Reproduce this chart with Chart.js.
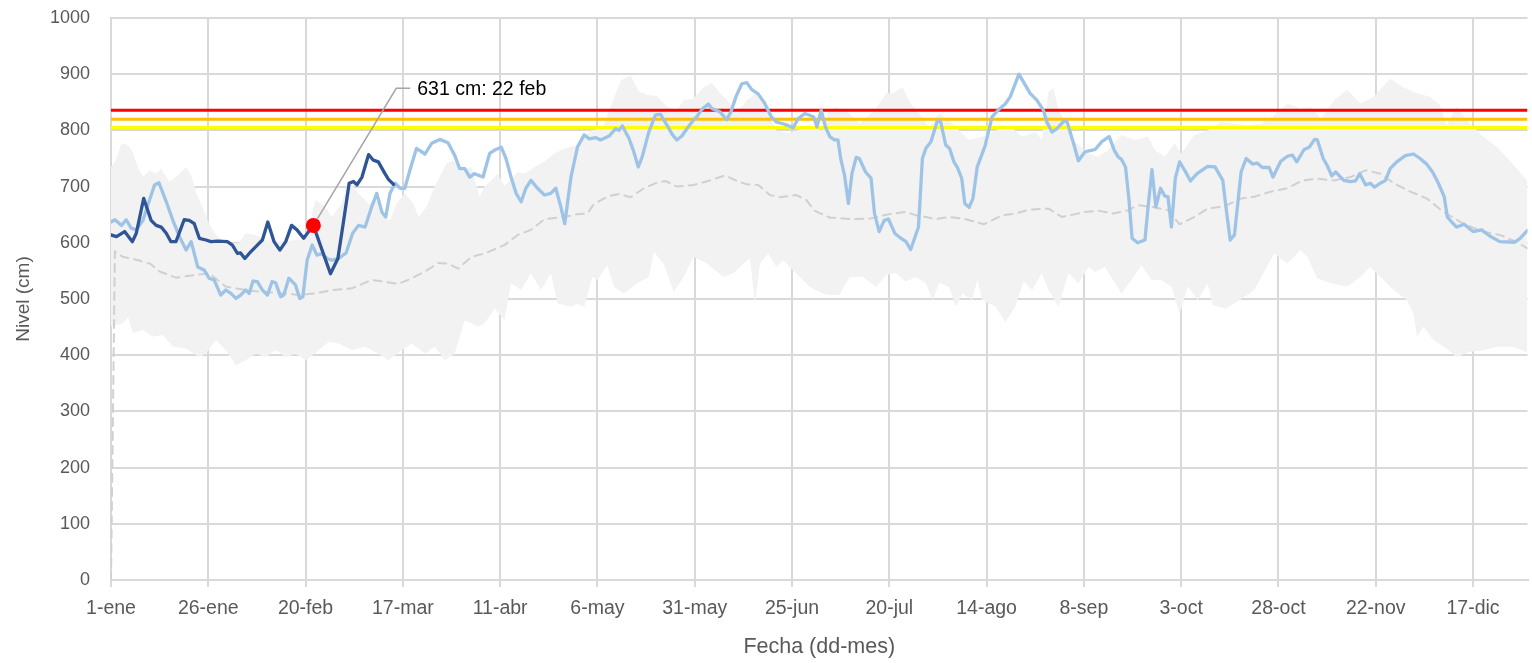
<!DOCTYPE html>
<html lang="es">
<head>
<meta charset="utf-8">
<title>Nivel (cm)</title>
<script src="https://cdn.jsdelivr.net/npm/chart.js@4/dist/chart.umd.min.js"></script>
<style>
    html, body { margin: 0; padding: 0; background: #fff; overflow: hidden; }
    #wrap { width: 1535px; height: 663px; }
</style>
</head>
<body>
<div id="wrap"><canvas id="levelChart" width="1535" height="663"></canvas></div>
<script>
// tick labels, one every 25 days from 1-ene
const tickLabels = ['1-ene', '26-ene', '20-feb', '17-mar', '11-abr', '6-may', '31-may', '25-jun',
    '20-jul', '14-ago', '8-sep', '3-oct', '28-oct', '22-nov', '17-dic'];

// current year (dark blue)
const currentDays = [0, 1.4, 3.5, 5.5, 6.5, 8.4, 10.3, 11.6, 12.9, 14.2, 15.4, 16.7, 18.8, 20.1, 21.4, 22.7, 24.4,
    25.7, 27.4, 29.9, 31.2, 32.5, 33.3, 34.4, 35.9, 37.6, 38.9, 40.3, 41.9, 43.4, 44.9, 46.4, 47.8, 49.5, 52,
    56.4, 58.3, 59.8, 61.2, 62.3, 63.2, 64.5, 66.2, 67.4, 68.7, 70.4, 71.3, 72.6];
const currentValues = [614, 611, 620, 602, 617, 679, 640, 631, 628, 617, 602, 602, 641, 640, 634, 608, 605,
    602, 603, 602, 596, 581, 582, 572, 584, 596, 605, 637, 602, 587, 602, 631, 623, 608, 631,
    545, 572, 640, 706, 709, 703, 717, 757, 747, 744, 723, 713, 704];

// previous year (light blue)
const previousDays = [0, 1, 2.7, 3.9, 5.2, 6.5, 8.2, 9.9, 11.2, 12.3, 14.2, 15.9, 17.6, 19.3, 20.6, 22.3, 24, 25.2,
    26.5, 28.2, 29.5, 30.8, 32.1, 33.3, 34.6, 35.5, 36.5, 37.6, 38.9, 40.2, 41.4, 42.3, 43.6, 44.4, 45.7, 47.4,
    48.5, 49.3, 50.4, 51.7, 52.9, 54.2, 55.5, 56.8, 58.5, 60.4, 62.1, 63.6, 65.3, 67, 68.3, 69.6, 70.6, 71.7,
    73, 74.3, 75.5, 76.8, 78.5, 80.7, 82.4, 84.5, 86.6, 88.3, 89.6, 90.9, 92.2, 93.4, 95.6, 97.3, 98.6, 100.3,
    101.5, 102.8, 104.1, 105.4, 106.6, 107.9, 109.6, 111.4, 113, 114.3, 115.6, 116.6, 118.2, 119.9, 121.6,
    122.9, 124.6, 125.8, 128, 129.7, 130.5, 131.4, 133.1, 134.2, 135.5, 136.5, 138.2, 139.9, 141.2, 142.9,
    144.2, 145.4, 146.7, 148, 149.3, 150.6, 151.8, 153.5, 154.4, 156.5, 158.2, 159.3, 160.6, 162.1, 163.4,
    164.6, 166.3, 168, 169.7, 171, 173.1, 175.3, 176.6, 178.3, 179.5, 180.6, 181.4, 182.5, 183.6, 184.7,
    185.9, 186.8, 187.6, 188.5, 189.5, 190.4, 191.5, 192.3, 193.9, 195.3, 196.2, 197.4, 198.7, 199.8, 201.5,
    203, 204.3, 205.5, 207.5, 208.5, 209.4, 210.7, 212.4, 213.2, 214.5, 215.5, 216.6, 217.5, 218.6, 219.4,
    220.5, 221.5, 222.6, 224.6, 226.4, 228.1, 229.8, 231.1, 233.3, 234.5, 236.2, 237.9, 239.6, 240.5, 241.8,
    243.1, 244.8, 245.6, 247.3, 248.6, 250.3, 251.6, 252.9, 254.6, 256.5, 257.8, 258.8, 259.7, 260.7, 261.6,
    262.4, 263.8, 265.7, 266.5, 267.5, 268.5, 269.7, 270.8, 271.6, 272.5, 273.5, 274.6, 275.9, 277.4, 279.1,
    281.8, 283.7, 285.7, 286.5, 287.6, 288.7, 290.4, 291.7, 293.4, 294.5, 295.9, 297.6, 298.6, 300.6, 302.3,
    303.6, 304.7, 306.6, 307.9, 309.3, 310, 311.5, 312.5, 313.7, 314.7, 316.8, 318.5, 319.8, 320.9, 322.4,
    323.6, 324.7, 326.2, 327.5, 328.7, 330.4, 332.6, 334.7, 336.4, 338.1, 339.6, 341.1, 342.6, 343.4, 344.5,
    345.8, 347.7, 350, 352.2, 354.3, 356.9, 360.7, 362.1, 364];
const previousValues = [637, 641, 631, 641, 626, 623, 640, 676, 703, 707, 673, 640, 611, 587, 602, 557, 551, 537,
    534, 507, 516, 510, 501, 507, 516, 510, 532, 531, 516, 507, 531, 529, 504, 507, 537, 525,
    501, 504, 569, 596, 578, 581, 572, 569, 572, 582, 617, 631, 628, 664, 688, 655, 646, 688,
    706, 697, 697, 729, 768, 758, 777, 784, 778, 756, 732, 732, 717, 723, 717, 759, 765, 770,
    750, 717, 688, 673, 697, 711, 697, 685, 688, 697, 664, 634, 717, 771, 792,
    785, 787, 783, 790, 803, 800, 808, 786, 765, 735, 753, 797, 827, 829, 809,
    793, 783, 790, 803, 815, 825, 837, 847, 839, 833, 819, 833, 860, 883, 885,
    873, 865, 848, 824, 815, 811, 805, 821, 830, 827, 824, 806, 836, 806, 789,
    783, 783, 747, 720, 670, 723, 752, 750, 726, 715, 652, 620, 640, 642, 616,
    608, 602, 588, 628, 750, 768, 780, 818, 815, 774, 768, 744, 734, 715, 670,
    663, 679, 735, 772, 824, 837, 847, 860, 900, 886, 866, 854, 836, 815, 797,
    803, 816, 817, 778, 746, 762, 764, 766, 780, 789, 765, 753, 748, 735, 676,
    608, 600, 605, 664, 730, 664, 697, 683, 682, 628, 715, 744, 729, 710, 723,
    736, 735, 711, 664, 605, 614, 726, 750, 740, 742, 734, 734, 717, 745, 754,
    756, 744, 766, 770, 784, 783, 750, 738, 719, 726, 711, 709, 710, 723, 703,
    706, 699, 706, 711, 732, 744, 755, 758, 750, 740, 726, 706, 682, 646, 637,
    628, 633, 620, 623, 612, 602, 601, 608, 622];

// historical mean (dashed)
const meanDays = [0, 1, 3, 7, 10, 12.5, 16.7, 21.8, 25.2, 29.5, 33.8, 38, 44.9, 48.3, 52.5, 56.8, 61.9, 67, 73.8,
    76.4, 80.7, 84.1, 86.6, 89.2, 92.6, 96, 101.1, 104.5, 107.9, 111.4, 116.5, 119.9, 122.4, 124.1, 127.5, 130.5,
    133.5, 136.9, 140.3, 142.5, 145.4, 149.7, 154, 157.8, 160.8, 163.4, 166.3, 169.3, 171.9, 176.1, 178.7,
    180.8, 184.7, 190.6, 194.9, 200, 204.3, 206.8, 209.4, 211.9, 215.3, 219.6, 224.3, 229, 232.4, 235.8,
    240.9, 244.3, 247.7, 250.3, 253.7, 257.5, 261.4, 263.9, 267.4, 271.6, 274.6, 278.4, 281.8, 286.1, 290.4,
    293.8, 298, 302.3, 306.1, 310, 314.3, 318.5, 322.4, 326.2, 329.6, 333.9, 338.1, 342.4, 347.5, 352.6,
    356.9, 361.1, 364];
const meanValues = [0, 585, 575, 569, 563, 549, 538, 543, 546, 522, 517, 513, 510, 507, 510, 516, 519, 534, 527,
    534, 549, 564, 563, 554, 575, 581, 596, 614, 623, 642, 646, 651, 652, 669, 682, 687,
    681, 697, 707, 710, 700, 703, 711, 720, 710, 704, 703, 685, 681, 685, 676,
    657, 645, 642, 643, 651, 655, 649, 646, 642, 646, 642, 633, 649, 652, 659,
    661, 646, 651, 655, 657, 652, 658, 667, 664, 658, 633, 646, 661, 665, 679,
    682, 691, 697, 711, 714, 711, 717, 729, 723, 706, 691, 679, 655, 634, 620,
    614, 602, 590];

// historical maximum
const maxDays = [0, 1.3, 2.7, 4.3, 5.6, 6.9, 8.2, 9.9, 11.6, 12.9, 15, 16.7, 19.3, 20.6, 21.8, 23.5, 25.2, 27, 29.5,
    32.9, 34.6, 37.2, 39.7, 43.1, 47.4, 50, 52.5, 55.1, 56.8, 59.3, 61, 63.6, 66.2, 68.7, 70.4, 71.7, 73.4, 75.5,
    77.7, 79, 81.1, 83.2, 86.2, 87.9, 90.5, 92.6, 94.7, 96, 97.7, 99.4, 101.1, 102.8, 104.5, 106.2, 109.6, 111.4,
    113.9, 116.5, 119.9, 123.3, 126.3, 128.4, 131, 133.5, 135.6, 137.8, 140.3, 142.9, 145.4, 147.2, 149.7,
    152.3, 154.4, 156.5, 159.1, 160.8, 163.4, 166, 167.6, 171, 174.4, 176.1, 179.5, 182.9, 184.5, 186.4,
    189.8, 192.3, 196.2, 199.2, 200.9, 203.4, 205.5, 207.7, 210.2, 212.8, 215.4, 217.9, 220.5, 223.9, 227.3,
    230.7, 234.1, 237.5, 239.2, 240.9, 242.2, 243.5, 246, 247.7, 251.2, 253.7, 256.3, 259.7, 263.1, 266.5,
    268.2, 270.8, 273.3, 275, 278.4, 281.8, 285.3, 288.7, 292.1, 295.5, 298.9, 302.4, 305.7, 308.3, 311,
    314.3, 317.7, 321.1, 324.5, 328.7, 332.1, 335.5, 338.9, 341.5, 343.2, 345.8, 349.2, 352.6, 356, 359.4, 364];
const maxValues = [735, 747, 777, 774, 762, 735, 717, 729, 723, 732, 708, 717, 735, 720, 691, 664, 634, 614, 600,
    599, 617, 614, 605, 602, 605, 605, 676, 664, 646, 670, 711, 688, 670, 676, 646, 640, 670, 688,
    670, 646, 664, 700, 741, 747, 729, 735, 682, 700, 711, 723, 700, 714, 726, 723, 738, 744,
    759, 768, 774, 800, 803, 842, 889, 898, 869, 863, 861, 842, 836, 854, 857,
    877, 885, 866, 848, 830, 854, 866, 848, 800, 795, 800, 806, 800, 836, 842,
    830, 812, 836, 866, 866, 877, 848, 830, 806, 830, 818, 800, 783, 789, 800,
    809, 789, 797, 783, 869, 875, 836, 806, 780, 759, 753, 765, 792, 783, 789,
    765, 753, 777, 759, 792, 800, 815, 812, 809, 812, 827, 848, 839, 842, 821,
    854, 872, 848, 860, 892, 877, 866, 860, 845, 809, 842, 812, 789, 771, 747, 710];

// historical minimum
const minDays = [0, 3.1, 4.4, 5.6, 8.2, 10.7, 13.3, 15.9, 19.3, 22.7, 24.4, 27, 29.5, 32.1, 34.6, 37.2, 39.7, 42.3,
    44.9, 47.4, 50, 53.4, 55.9, 58.5, 61.9, 65.3, 68.7, 71.3, 74.7, 77.2, 80.7, 83.2, 85.8, 88.3, 90.9, 94.3, 96,
    98.6, 101.1, 102.8, 105.4, 107.9, 110.5, 113, 114.8, 118.2, 119.9, 121.6, 123.7, 125, 127.5, 129.3, 131.8,
    135.2, 138.2, 139.5, 142, 144.6, 147.2, 149.7, 153.1, 157.4, 160, 162.5, 164.2, 165.5, 166.8, 168.9, 171,
    172.7, 175.3, 179.5, 182.9, 184.5, 187.2, 189.8, 193.2, 196.6, 199.2, 201.7, 204.3, 206.8, 209.4, 211.1,
    212.8, 215.4, 217.1, 218.8, 221.3, 222.6, 223.9, 227.3, 229.8, 232.4, 234.5, 236.7, 239.2, 240.9, 243.5,
    246, 248.6, 251.2, 252.9, 255.4, 259.7, 262.2, 264.8, 267.4, 269.9, 272.5, 274.6, 276.7, 279.3, 281.8,
    283.1, 286.5, 288.7, 293.8, 298.9, 302.3, 305.7, 307.4, 310, 313.4, 317.7, 321.1, 323.6, 327, 329.6, 333,
    334.7, 335.6, 337.3, 339.8, 343.2, 345.8, 349.2, 352.6, 356, 360.3, 364];
const minValues = [451, 457, 468, 439, 445, 433, 436, 415, 412, 397, 403, 427, 409, 382, 391, 403, 397, 409,
    397, 403, 391, 409, 424, 421, 409, 415, 403, 391, 409, 421, 403, 415, 391, 403, 462, 451, 457,
    483, 462, 528, 516, 546, 516, 546, 492, 486, 492, 486, 539, 534, 560, 522, 510,
    528, 539, 584, 563, 513, 539, 575, 563, 539, 546, 563, 572, 492, 563, 581, 557,
    569, 551, 522, 510, 507, 507, 539, 539, 522, 543, 546, 531, 539, 528, 498,
    528, 522, 486, 510, 498, 534, 498, 486, 459, 486, 531, 516, 546, 516, 486,
    546, 528, 557, 548, 557, 510, 534, 560, 534, 534, 522, 474, 522, 498, 528,
    489, 483, 492, 516, 581, 563, 587, 575, 537, 528, 522, 539, 557, 534, 516, 498,
    474, 433, 451, 427, 412, 397, 406, 409, 415, 415, 405];

// alert thresholds (cm)
const redLevel = 836;
const orangeLevel = 820;
const yellowLevel = 805;

// highlighted reading
const markerDay = 52;
const markerValue = 631;
const markerText = '631 cm: 22 feb';
const calloutDay = 73.3;
const calloutLevel = 875;

const lastDay = 364;

const toPoints = (days, values) => days.map((d, i) => ({ x: d, y: values[i] }));
const flatLine = level => [{ x: 0, y: level }, { x: lastDay, y: level }];

const fontFamily = '"Liberation Sans", Arial, sans-serif';

const calloutPlugin = {
    id: 'callout',
    afterDatasetsDraw(chart) {
        const { ctx, scales: { x, y } } = chart;
        const px = x.getPixelForValue(markerDay);
        const py = y.getPixelForValue(markerValue);
        const ex = x.getPixelForValue(calloutDay);
        const ey = y.getPixelForValue(calloutLevel);
        const len = Math.hypot(ex - px, ey - py);
        const sx = px + (ex - px) / len * 8;
        const sy = py + (ey - py) / len * 8;

        ctx.save();
        ctx.strokeStyle = '#a6a6a6';
        ctx.lineWidth = 1.5;
        ctx.beginPath();
        ctx.moveTo(sx, sy);
        ctx.lineTo(ex, ey);
        ctx.lineTo(ex + 14, ey);
        ctx.stroke();

        ctx.fillStyle = '#000000';
        ctx.font = '19.5px ' + fontFamily;
        ctx.textAlign = 'left';
        ctx.textBaseline = 'middle';
        ctx.fillText(markerText, ex + 21, ey + 1);
        ctx.restore();
    }
};

document.addEventListener('DOMContentLoaded', () => {
    const canvas = document.getElementById('levelChart');

    new Chart(canvas.getContext('2d'), {
        type: 'line',
        data: {
            datasets: [
                {
                    label: 'Actual',
                    data: [{ x: markerDay, y: markerValue }],
                    showLine: false,
                    pointRadius: 7.5,
                    pointBackgroundColor: '#ff0000',
                    pointBorderWidth: 0,
                },
                {
                    label: 'Año actual',
                    data: toPoints(currentDays, currentValues),
                    borderColor: '#2f5597',
                    borderWidth: 3.3,
                },
                {
                    label: 'Año anterior',
                    data: toPoints(previousDays, previousValues),
                    borderColor: '#9dc3e6',
                    borderWidth: 3.3,
                },
                {
                    label: 'Alerta roja',
                    data: flatLine(redLevel),
                    borderColor: '#ff0000',
                    borderWidth: 3,
                    borderCapStyle: 'butt',
                },
                {
                    label: 'Alerta naranja',
                    data: flatLine(orangeLevel),
                    borderColor: '#ffc000',
                    borderWidth: 3,
                    borderCapStyle: 'butt',
                },
                {
                    label: 'Alerta amarilla',
                    data: flatLine(yellowLevel),
                    borderColor: '#ffff00',
                    borderWidth: 3,
                    borderCapStyle: 'butt',
                },
                {
                    label: 'Promedio',
                    data: toPoints(meanDays, meanValues),
                    borderColor: '#d0d0d0',
                    borderWidth: 2,
                    borderDash: [8, 6],
                },
                {
                    label: 'Máximo',
                    data: toPoints(maxDays, maxValues),
                    borderWidth: 0,
                    borderColor: 'rgba(0,0,0,0)',
                    backgroundColor: '#f2f2f2',
                    fill: '+1',
                },
                {
                    label: 'Mínimo',
                    data: toPoints(minDays, minValues),
                    borderWidth: 0,
                    borderColor: 'rgba(0,0,0,0)',
                    fill: false,
                },
            ],
        },
        options: {
            responsive: false,
            animation: false,
            devicePixelRatio: 1,
            layout: { padding: { top: 18, right: 0, left: 0, bottom: 0 } },
            elements: {
                point: { radius: 0, hoverRadius: 0 },
                line: { tension: 0, borderJoinStyle: 'round', borderCapStyle: 'round' },
            },
            plugins: {
                legend: { display: false },
                tooltip: { enabled: false },
            },
            scales: {
                x: {
                    type: 'linear',
                    min: 0,
                    max: lastDay,
                    afterBuildTicks: scale => {
                        scale.ticks = tickLabels.map((_, i) => ({ value: i * 25 }));
                    },
                    afterFit: scale => { scale.height = 83; },
                    ticks: {
                        callback: value => tickLabels[Math.round(value / 25)],
                        color: '#595959',
                        font: { family: fontFamily, size: 19.5 },
                        padding: 10,
                        maxRotation: 0,
                        autoSkip: false,
                    },
                    grid: { color: '#d9d9d9', lineWidth: 2, tickLength: 7 },
                    border: { color: '#d9d9d9', width: 2 },
                    title: {
                        display: true,
                        text: 'Fecha (dd-mes)',
                        color: '#595959',
                        font: { family: fontFamily, size: 21.5 },
                        padding: { top: 0, bottom: 3 },
                    },
                },
                y: {
                    min: 0,
                    max: 1000,
                    afterFit: scale => {
                        scale.width = 111;
                        scale.paddingTop = 0;
                        scale.paddingBottom = 0;
                    },
                    ticks: {
                        stepSize: 100,
                        callback: value => String(value),
                        color: '#595959',
                        font: { family: fontFamily, size: 18 },
                        padding: 21,
                    },
                    grid: { color: '#d9d9d9', lineWidth: 2, drawTicks: false },
                    border: { color: '#d9d9d9', width: 2 },
                    title: {
                        display: true,
                        text: 'Nivel (cm)',
                        color: '#595959',
                        font: { family: fontFamily, size: 19 },
                        padding: { top: 12, bottom: 0 },
                    },
                },
            },
        },
        plugins: [calloutPlugin],
    });
});
</script>
</body>
</html>
